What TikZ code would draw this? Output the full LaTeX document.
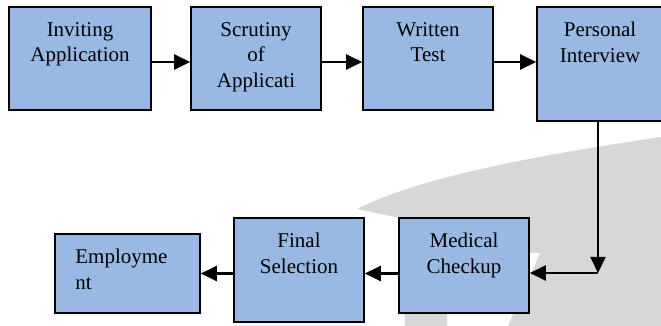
\documentclass[tikz,border=0pt]{standalone}
\usepackage{fontspec}
\setmainfont{Liberation Serif}
\usetikzlibrary{arrows.meta}

\definecolor{stageblue}{RGB}{153,185,228}
\definecolor{swoosh}{RGB}{215,215,215}

\begin{document}
\begin{tikzpicture}[x=1pt, y=1pt, >={Triangle[length=16pt, width=15pt]},
        stage/.style={draw, line width=1.6pt, fill=stageblue, inner sep=0pt},
        caption/.style={anchor=north, align=center, inner sep=0pt, yshift=-16pt,
                        font=\rmfamily\fontsize{21}{25.7}\selectfont},
        flow/.style={->, line width=2.1pt}]
        \useasboundingbox (0,0) rectangle (661,326);

        % Grey swoosh behind the lower row
        \fill[swoosh] (357,117) -- (400,108) -- (405,0) -- (447,0) -- (447,73)
            -- (540,73) -- (508,0) -- (670,0) -- (670,190) -- (661,189)
            .. controls (470,161) and (400,138) .. (357,117) -- cycle;

        % 1. Top row of stages
        \node[stage, minimum width=142pt, minimum height=103pt,
              label={[caption]north:Inviting\\Application}] (invite) at (80,267.5) {};
        \node[stage, minimum width=130pt, minimum height=103pt,
              label={[caption]north:Scrutiny\\of\\Applicati}] (scrutiny) at (256,267.5) {};
        \node[stage, minimum width=130pt, minimum height=103pt,
              label={[caption]north:Written\\Test}] (written) at (428,267.5) {};
        \node[stage, minimum width=126pt, minimum height=114pt,
              label={[caption]north:Personal\\Interview}] (interview) at (600,262) {};

        % 2. Bottom row of stages
        \node[stage, minimum width=130pt, minimum height=95pt,
              label={[caption]north:Medical\\Checkup}] (medical) at (464,60.5) {};
        \node[stage, minimum width=130pt, minimum height=104pt,
              label={[caption]north:Final\\Selection}] (final) at (299,56) {};
        \node[stage, minimum width=145pt, minimum height=79pt,
              label={[caption, anchor=north west, align=left, xshift=21pt]north west:Employme\\nt}] (employ) at (127.5,52.5) {};

        % 3. Flow arrows
        \draw[flow] ([yshift=-3.5pt]invite.east) -- ([yshift=-3.5pt]scrutiny.west);
        \draw[flow] ([yshift=-3.5pt]scrutiny.east) -- ([yshift=-3.5pt]written.west);
        \draw[flow] ([yshift=-3.5pt]written.east) -- ([yshift=2pt]interview.west);

        % Turn down to the lower row
        \coordinate (bend) at (598,53);
        \draw[flow] (interview.south -| bend) -- (bend);
        \draw[flow] (bend) -- (medical.east |- bend);
        \draw[flow] (medical.west |- employ) -- (final.east |- employ);
        \draw[flow] (final.west |- employ) -- (employ.east);
\end{tikzpicture}
\end{document}
